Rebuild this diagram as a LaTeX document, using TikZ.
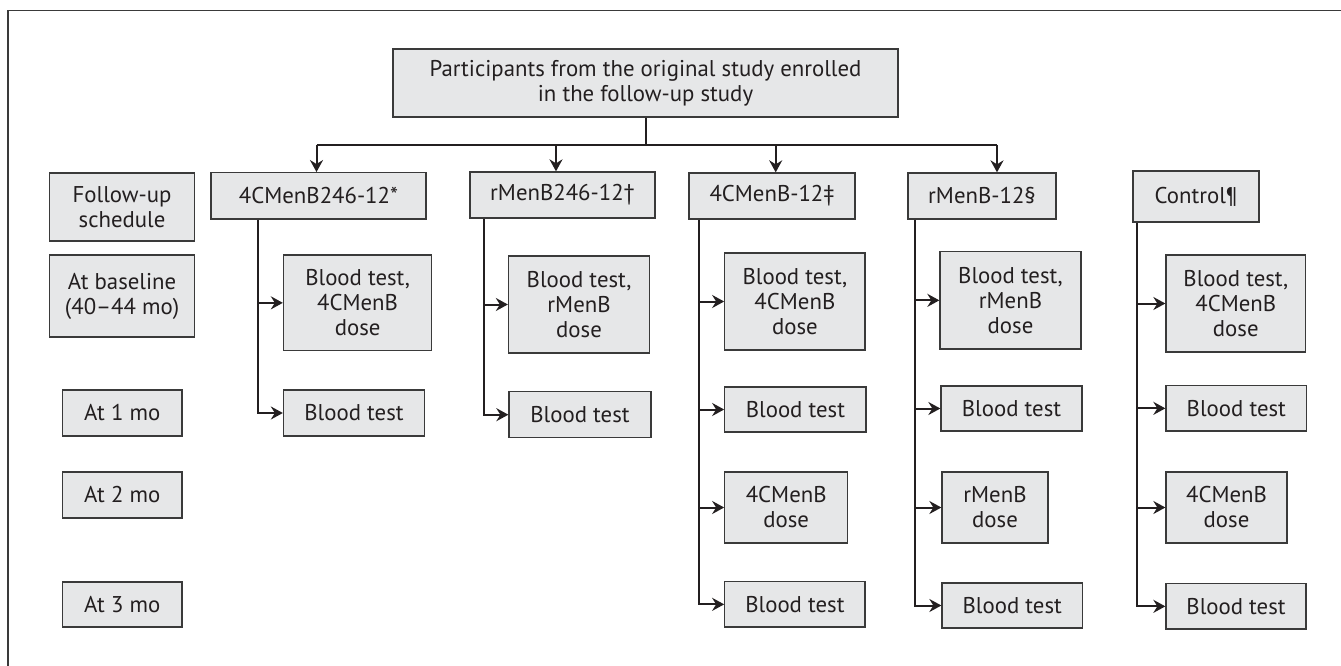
\documentclass[tikz,border=0pt]{standalone}
\usepackage{fontspec}
\setmainfont{PT Sans}
\usetikzlibrary{arrows.meta}
\definecolor{boxfill}{HTML}{E6E7E8}
\definecolor{boxline}{HTML}{3A3A3A}
\definecolor{ink}{HTML}{231F20}
\tikzset{
 bx/.style={draw=boxline, fill=boxfill, line width=1.3pt, inner sep=0pt, align=center, text=ink, font=\fontsize{22.8}{25}\selectfont},
 conn/.style={draw=ink, line width=2pt},
 arr/.style={conn, -{Stealth[length=12pt,width=13pt,inset=4pt]}},
 frame/.style={draw=boxline, line width=1.2pt},
}
\newcommand{\bx}[6]{\node[bx, minimum width={#4-#2}, minimum height={#5-#3}] (#1) at ({(#2+#4)/2},{(#3+#5)/2}) {#6};}
\begin{document}
\begin{tikzpicture}[x=1pt,y=-1pt]
\useasboundingbox (0,0) rectangle (1341,666);
\fill[white] (0,0) rectangle (1341,666);
\draw[frame] (1341,10.7) -- (8,10.7) -- (8,666);
% left schedule column
\bx{fs}{49.5}{173}{194.6}{241}{Follow-up\\schedule}
\bx{bl}{49.5}{255}{194.6}{337}{At baseline\\(40–44 mo)}
\bx{m1}{62.5}{390}{182}{436}{At 1 mo}
\bx{m2}{62.5}{472}{182}{518}{At 2 mo}
\bx{m3}{62.5}{582}{182}{627}{At 3 mo}
% top
\bx{top}{393}{49}{898}{117}{Participants from the original study enrolled\\in the follow-up study}
% groups
\bx{g1}{211}{172.7}{426}{219}{4CMenB246-12*}
\bx{g2}{470}{172}{655}{218}{rMenB246-12†}
\bx{g3}{689}{173}{855}{219}{4CMenB-12‡}
\bx{g4}{908}{173}{1056}{219}{rMenB-12§}
\bx{g5}{1133}{171}{1259}{222}{Control¶}
% column 1
\bx{a1}{283.5}{255}{431.7}{350.7}{Blood test,\\4CMenB\\dose}
\bx{b1}{283.5}{390}{424.5}{436}{Blood test}
% column 2
\bx{a2}{508.5}{256}{649.6}{353}{Blood test,\\rMenB\\dose}
\bx{b2}{509}{391.7}{651}{437.7}{Blood test}
% column 3
\bx{a3}{724.8}{253}{865}{350}{Blood test,\\4CMenB\\dose}
\bx{b3}{724.8}{387}{866}{432}{Blood test}
\bx{c3}{724.8}{472}{847.6}{543}{4CMenB\\dose}
\bx{d3}{724.8}{581.7}{865}{627}{Blood test}
% column 4
\bx{a4}{940}{251.7}{1081}{349}{Blood test,\\rMenB\\dose}
\bx{b4}{941}{386}{1082}{431}{Blood test}
\bx{c4}{942}{472}{1048}{543}{rMenB\\dose}
\bx{d4}{942}{583}{1082.5}{628}{Blood test}
% column 5
\bx{a5}{1166}{255}{1305.6}{352}{Blood test,\\4CMenB\\dose}
\bx{b5}{1166}{385.7}{1306.6}{431}{Blood test}
\bx{c5}{1166}{472}{1287}{543}{4CMenB\\dose}
\bx{d5}{1166}{583.7}{1306}{629}{Blood test}
% top connectors
\coordinate (h1) at (316.5,145);
\coordinate (h2) at (556,145);
\coordinate (h3) at (775.7,145);
\coordinate (h4) at (997,145);
\draw[conn] (top.south) -- (top.south |- h1);
\draw[conn, line width=2.4pt] (h1) -- (h4);
\draw[arr] (h1) -- (h1 |- g1.north);
\draw[arr] (h2) -- (h2 |- g2.north);
\draw[arr] (h3) -- (h3 |- g3.north);
\draw[arr] (h4) -- (h4 |- g4.north);
% column connectors
\coordinate (v1) at (257.6,0);
\coordinate (v2) at (484,0);
\coordinate (v3) at (699,0);
\coordinate (v4) at (915.4,0);
\coordinate (v5) at (1137,0);
\draw[arr] (g1.south -| v1) |- (b1.west);
\draw[arr] (v1 |- a1.west) -- (a1.west);
\draw[arr] (g2.south -| v2) |- (b2.west);
\draw[arr] (v2 |- a2.west) -- (a2.west);
\draw[arr] (g3.south -| v3) |- (d3.west);
\draw[arr] (v3 |- a3.west) -- (a3.west);
\draw[arr] (v3 |- b3.west) -- (b3.west);
\draw[arr] (v3 |- c3.west) -- (c3.west);
\draw[arr] (g4.south -| v4) |- (d4.west);
\draw[arr] (v4 |- a4.west) -- (a4.west);
\draw[arr] (v4 |- b4.west) -- (b4.west);
\draw[arr] (v4 |- c4.west) -- (c4.west);
\draw[arr] (g5.south -| v5) |- (d5.west);
\draw[arr] (v5 |- a5.west) -- (a5.west);
\draw[arr] (v5 |- b5.west) -- (b5.west);
\draw[arr] (v5 |- c5.west) -- (c5.west);
\end{tikzpicture}
\end{document}
